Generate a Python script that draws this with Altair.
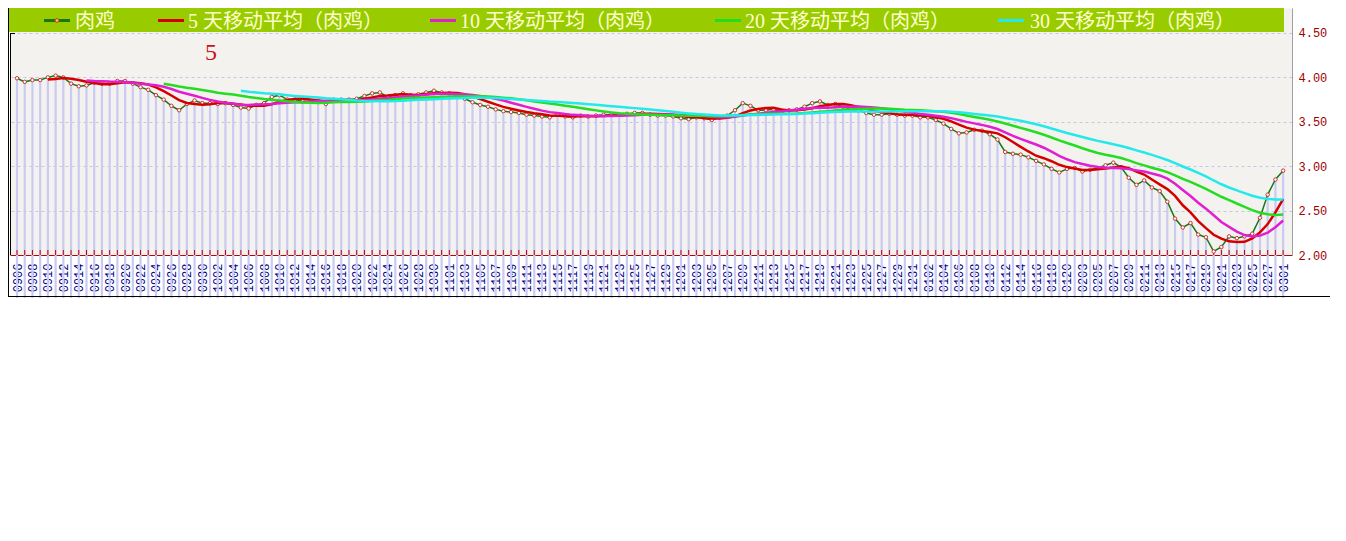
import altair as alt
import pandas as pd

# ---- data ----
date_labels = [
    '0906', '0908', '0910', '0912', '0914', '0916', '0918', '0920', '0922', '0924', '0926', '0928', '0930',
    '1002', '1004', '1006', '1008', '1010', '1012', '1014', '1016', '1018', '1020', '1022', '1024', '1026', '1028', '1030',
    '1101', '1103', '1105', '1107', '1109', '1111', '1113', '1115', '1117', '1119', '1121', '1123', '1125', '1127', '1129',
    '1201', '1203', '1205', '1207', '1209', '1211', '1213', '1215', '1217', '1219', '1221', '1223', '1225', '1227', '1229', '1231',
    '0102', '0104', '0106', '0108', '0110', '0112', '0114', '0116', '0118', '0120',
    '0203', '0205', '0207', '0209', '0211', '0213', '0215', '0217', '0219', '0221', '0223', '0225', '0227',
    '0301',
]

price = [
    3.99, 3.95, 3.97, 3.97, 4.00, 4.02, 4.00, 3.93, 3.90, 3.91,
    3.94, 3.93, 3.93, 3.96, 3.96, 3.93, 3.89, 3.86, 3.80, 3.75,
    3.68, 3.63, 3.70, 3.74, 3.71, 3.71, 3.70, 3.71, 3.69, 3.66,
    3.65, 3.69, 3.71, 3.78, 3.80, 3.75, 3.75, 3.73, 3.73, 3.74,
    3.70, 3.75, 3.75, 3.75, 3.76, 3.79, 3.82, 3.83, 3.78, 3.80,
    3.82, 3.80, 3.81, 3.83, 3.85, 3.83, 3.82, 3.79, 3.76, 3.72,
    3.69, 3.67, 3.64, 3.62, 3.61, 3.60, 3.58, 3.57, 3.56, 3.55,
    3.58, 3.56, 3.55, 3.57, 3.56, 3.57, 3.58, 3.58, 3.58, 3.59,
    3.60, 3.60, 3.58, 3.57, 3.57, 3.56, 3.54, 3.53, 3.55, 3.54,
    3.52, 3.55, 3.57, 3.63, 3.71, 3.68, 3.63, 3.63, 3.64, 3.61,
    3.63, 3.64, 3.67, 3.71, 3.73, 3.69, 3.70, 3.67, 3.64, 3.63,
    3.60, 3.58, 3.58, 3.59, 3.58, 3.57, 3.57, 3.55, 3.55, 3.52,
    3.48, 3.42, 3.37, 3.38, 3.41, 3.40, 3.36, 3.30, 3.16, 3.14,
    3.13, 3.10, 3.06, 3.02, 2.97, 2.93, 2.97, 2.98, 2.94, 2.96,
    2.98, 3.01, 3.04, 2.99, 2.87, 2.79, 2.84, 2.76, 2.72, 2.60,
    2.41, 2.31, 2.36, 2.23, 2.20, 2.04, 2.09, 2.21, 2.19, 2.21,
    2.24, 2.42, 2.68, 2.85, 2.95,
]

ma_windows = [5, 10, 20, 30]
series_names = ['肉鸡', '5 天移动平均（肉鸡）', '10 天移动平均（肉鸡）', '20 天移动平均（肉鸡）', '30 天移动平均（肉鸡）']
series_colors = ['#157a15', '#d40000', '#e020d0', '#22dd22', '#22eaea']
y_ticks = [2.0, 2.5, 3.0, 3.5, 4.0, 4.5]
chart_title = '5'

# ---- chart ----
df = pd.DataFrame({'i': list(range(len(price))), 'price': price})
one = pd.DataFrame({'k': [0]})

W, H = 1282, 247

x_scale = alt.Scale(domain=[-0.26, 164.5], nice=False, zero=False)
y_scale = alt.Scale(domain=[2.0, 4.7815], nice=False, zero=False)

label_js = "[" + ",".join("'%s'" % s for s in date_labels) + "]"
x_axis = alt.Axis(
    values=list(range(0, len(price), 2)),
    labelExpr=label_js + "[floor(datum.value / 2)]",
    labelAngle=270, labelFont='Liberation Mono', labelFontSize=12,
    labelColor='#000080', labelPadding=8, labelOverlap=False,
    labelFlush=False, labelBound=False, ticks=False,
    domain=True, domainColor='#c00000', domainWidth=1,
    grid=False, title='',
)
y_axis = alt.Axis(
    orient='right', values=y_ticks, format='.2f',
    labelFont='Liberation Mono', labelFontSize=12, labelColor='#a00000',
    labelPadding=6, ticks=False, domain=True, domainColor='#a0a0a0',
    grid=True, gridColor='#c6c6e4', gridDash=[3, 3], gridWidth=1,
    title='',
)

X = alt.X('i:Q', scale=x_scale, axis=x_axis)

base = alt.Chart(df)

bars = base.mark_bar(size=2.2, color='#cacaf2').encode(
    x=X, y=alt.Y('price:Q', scale=y_scale, axis=y_axis)
)

red_ticks = base.mark_rule(color='#c00000', strokeWidth=1).encode(
    x=X, y=alt.value(H), y2=alt.value(H - 5)
)

price_line = base.mark_line(color=series_colors[0], strokeWidth=1.5).encode(
    x=X, y=alt.Y('price:Q', scale=y_scale, axis=y_axis)
)
price_pts = base.mark_point(shape='circle', filled=True, fill='white', stroke='#cc3333',
                            strokeWidth=1, size=12, opacity=1).encode(
    x=X, y=alt.Y('price:Q', scale=y_scale, axis=y_axis)
)

ma_base = base
for n in ma_windows:
    ma_base = ma_base.transform_window(
        frame=[-(n - 1), 0], sort=[alt.SortField('i')],
        **{'ma%d' % n: 'mean(price)', 'c%d' % n: 'count()'}
    )

ma_layers = []
for n, col in zip(ma_windows, series_colors[1:]):
    ma_layers.append(
        ma_base.transform_filter('datum.c%d >= %d' % (n, n))
        .mark_line(color=col, strokeWidth=2.5)
        .encode(x=X, y=alt.Y('ma%d:Q' % n, scale=y_scale, axis=y_axis))
    )

deco = alt.Chart(one)

# legend band
band = deco.mark_rect(color='#99cc00').encode(
    x=alt.value(-1), x2=alt.value(1274), y=alt.value(0), y2=alt.value(24)
)

legend_layers = [band]
sym_x = [34, 148, 420, 705, 988]
txt_x = [65, 178, 450, 735, 1020]
leg_y = 12.5
for sx, tx, name, col in zip(sym_x, txt_x, series_names, series_colors):
    legend_layers.append(
        deco.mark_rule(color=col, strokeWidth=3).encode(
            x=alt.value(sx), x2=alt.value(sx + 26), y=alt.value(leg_y)
        )
    )
    legend_layers.append(
        deco.mark_text(text=name, font='Liberation Serif, Noto Sans CJK SC', fontSize=20,
                       color='#ffffcc', align='left', baseline='middle').encode(
            x=alt.value(tx), y=alt.value(leg_y + 1)
        )
    )
legend_layers.append(
    deco.mark_point(shape='circle', filled=True, fill='#ffcc33', stroke='#cc3333',
                    strokeWidth=1, size=14, opacity=1).encode(
        x=alt.value(sym_x[0] + 13), y=alt.value(leg_y)
    )
)

title_txt = deco.mark_text(text=chart_title, font='Liberation Serif', fontSize=24,
                           color='#cc1111', align='center', baseline='middle').encode(
    x=alt.value(201), y=alt.value(45)
)

# frame lines
left_axis_line = deco.mark_rule(color='black', strokeWidth=1).encode(
    x=alt.value(0.5), y=alt.value(25), y2=alt.value(H)
)
left_axis_tick = deco.mark_rule(color='black', strokeWidth=1).encode(
    x=alt.value(0), x2=alt.value(5), y=alt.value(25.5)
)
frame_bottom = deco.mark_rule(color='black', strokeWidth=1).encode(
    x=alt.value(-2), x2=alt.value(1320), y=alt.value(288.5)
)
frame_left = deco.mark_rule(color='black', strokeWidth=1).encode(
    x=alt.value(-1.5), y=alt.value(0), y2=alt.value(288.5)
)

chart = alt.layer(
    bars, red_ticks, price_line, price_pts, *ma_layers,
    *legend_layers, title_txt,
    left_axis_line, left_axis_tick, frame_bottom, frame_left,
).properties(
    width=W, height=H,
    autosize=alt.AutoSizeParams(type='none'),
    padding={'left': 2, 'top': 0, 'right': 42, 'bottom': 43},
    background='white',
).configure_view(
    fill='#f4f2ef', stroke='transparent'
)

chart.save('out.html', embed_options={'renderer': 'svg', 'actions': False})
